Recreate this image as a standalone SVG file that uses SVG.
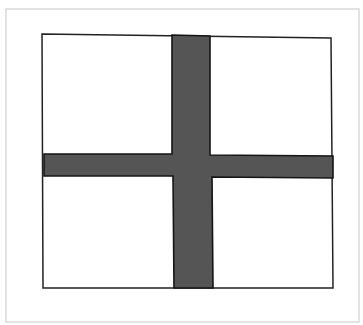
<svg xmlns="http://www.w3.org/2000/svg" width="363" height="325" viewBox="0 0 363 325">
<style>
.frame{fill:#fff;stroke:#d0d0d0;stroke-width:1.2}
.sq{fill:#fff;stroke:#222;stroke-width:1.5}
.bar{fill:#555;stroke:#151515;stroke-width:1.6}
</style>
<rect width="363" height="325" fill="#fff"/>
<rect class="frame" x="6" y="9" width="353" height="313"/>
<g id="square">
<polygon class="sq" points="42,34 331,38 333,288 43,288"/>
</g>
<g id="cross">
<polygon class="bar" points="172,35 210,36 210,155 333,156 333,178 212,177 213,288 174,288 173,176 44,176 44,154 172,154"/>
</g>
</svg>
